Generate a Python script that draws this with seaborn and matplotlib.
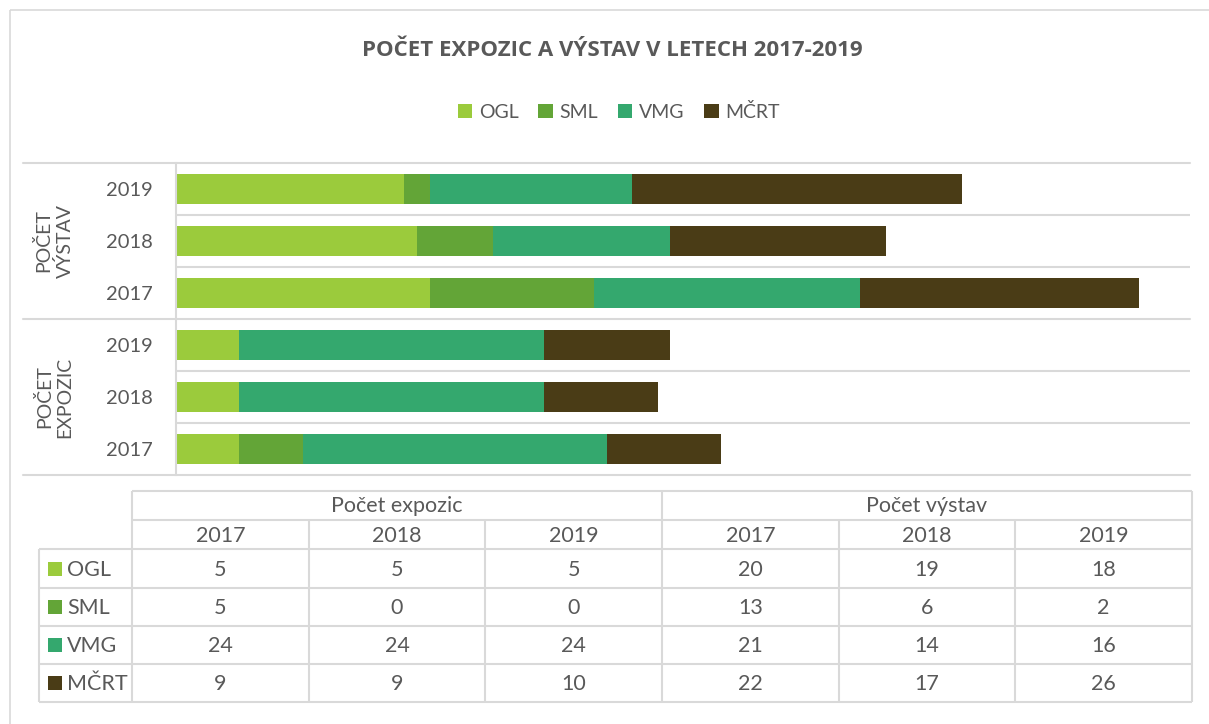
import matplotlib
matplotlib.use("Agg")
import matplotlib.pyplot as plt
import seaborn as sns
import pandas as pd
from matplotlib.patches import Patch, Rectangle
from matplotlib.lines import Line2D

# ---------------- data ----------------
series = ["OGL", "SML", "VMG", "MČRT"]
colors = ["#9BCB3C", "#63A537", "#34A86E", "#4A3C16"]
years = ["2017", "2018", "2019"]
groups = ["Počet expozic", "Počet výstav"]

expozic_OGL = [5, 5, 5]
expozic_SML = [5, 0, 0]
expozic_VMG = [24, 24, 24]
expozic_MCRT = [9, 9, 10]

vystav_OGL = [20, 19, 18]
vystav_SML = [13, 6, 2]
vystav_VMG = [21, 14, 16]
vystav_MCRT = [22, 17, 26]

title = "POČET EXPOZIC A VÝSTAV V LETECH 2017-2019"
group_axis_labels = {"Počet výstav": "POČET\nVÝSTAV", "Počet expozic": "POČET\nEXPOZIC"}

expozic = {"OGL": expozic_OGL, "SML": expozic_SML, "VMG": expozic_VMG, "MČRT": expozic_MCRT}
vystav = {"OGL": vystav_OGL, "SML": vystav_SML, "VMG": vystav_VMG, "MČRT": vystav_MCRT}
data_by_group = {"Počet expozic": expozic, "Počet výstav": vystav}

# ---------------- style ----------------
sns.set_theme(style="white")
plt.rcParams["font.family"] = ["Lato", "DejaVu Sans"]
TXT = "#595959"
GRID = "#D9D9D9"
TABLE_FS = 15.5

W, H = 1209, 724
fig = plt.figure(figsize=(W / 100, H / 100), dpi=100)
fig.patch.set_facecolor("white")

# overlay axes in pixel coordinates for border, title, table
ov = fig.add_axes([0, 0, 1, 1], zorder=0)
ov.set_xlim(0, W)
ov.set_ylim(H, 0)
ov.axis("off")
ov.patch.set_alpha(0)

ov.add_patch(Rectangle((10, 10), W + 20, H + 20, fill=False, edgecolor=GRID, lw=1.2, clip_on=False))

ov.text(612, 50, title, ha="center", va="center", fontsize=16, fontweight="bold",
        color=TXT, family=["Open Sans", "DejaVu Sans"])

# ---------------- bars ----------------
rows = []
for g in ["Počet výstav", "Počet expozic"]:
    for y in reversed(years):
        rows.append((g, y))
cat_keys = [f"{g} {y}" for g, y in rows]

records = []
for g, y in rows:
    d = data_by_group[g]
    i = years.index(y)
    cum = 0
    for s in series:
        cum += d[s][i]
        records.append({"cat": f"{g} {y}", "series": s, "cum": cum})
df = pd.DataFrame(records)

ax = fig.add_axes([176 / W, 1 - 475 / H, 1014 / W, 312 / H], zorder=1)
ax.patch.set_alpha(0)
for s, c in reversed(list(zip(series, colors))):
    sub = df[df["series"] == s]
    sns.barplot(data=sub, x="cum", y="cat", order=cat_keys, color=c, saturation=1,
                width=0.58, linewidth=0, ax=ax, errorbar=None)

ax.set_xlim(0, 80)
ax.set_ylim(5.5, -0.5)
ax.set_xlabel("")
ax.set_ylabel("")
ax.set_xticks([])
ax.set_yticks(range(len(rows)), [y for g, y in rows])
ax.tick_params(axis="y", length=0, pad=17, labelsize=14.5, labelcolor=TXT)
for sp in ["top", "right", "bottom"]:
    ax.spines[sp].set_visible(False)
ax.spines["left"].set_color(GRID)
ax.spines["left"].set_linewidth(1.5)

left_ext = (23 - 176) / 1014
for yb in [-0.5, 2.5, 5.5]:
    ax.add_line(Line2D([left_ext, 1], [yb, yb], transform=ax.get_yaxis_transform(),
                       color=GRID, lw=1.5, clip_on=False))
for yb in [0.5, 1.5, 3.5, 4.5]:
    ax.axhline(yb, color=GRID, lw=1.5, zorder=0)

for g, cy in [("Počet výstav", 1), ("Počet expozic", 4)]:
    ax.text((54 - 176) / 1014, cy, group_axis_labels[g], transform=ax.get_yaxis_transform(),
            rotation=90, ha="center", va="center", multialignment="center",
            fontsize=14, color=TXT, linespacing=1.2)

# ---------------- legend ----------------
handles = [Patch(facecolor=c, edgecolor="none", label=s) for s, c in zip(series, colors)]
fig.legend(handles=handles, loc="center", bbox_to_anchor=(619 / W, 1 - 112 / H), ncol=4,
           frameon=False, fontsize=14, labelcolor=TXT, handlelength=0.75, handleheight=0.75,
           handletextpad=0.35, columnspacing=1.0)

# ---------------- data table ----------------
x0, x1, xr = 39, 132, 1192
cw = (xr - x1) / 6
yh0, yh1, yh2 = 491, 520, 549
row_y = [549, 588, 626, 664, 702]
lk = dict(color=GRID, lw=1.5, solid_capstyle="butt")

ov.plot([x1, xr], [yh0, yh0], **lk)
ov.plot([x1, xr], [yh1, yh1], **lk)
for yy in row_y:
    ov.plot([x0, xr], [yy, yy], **lk)
ov.plot([x0, x0], [yh2, row_y[-1]], **lk)
ov.plot([x1, x1], [yh0, row_y[-1]], **lk)
ov.plot([xr, xr], [yh0, row_y[-1]], **lk)
for k in range(1, 6):
    xx = x1 + k * cw
    top = yh0 if k == 3 else yh1
    ov.plot([xx, xx], [top, row_y[-1]], **lk)

for gi, g in enumerate(groups):
    ov.text(x1 + (gi * 3 + 1.5) * cw, (yh0 + yh1) / 2 + 1, g, ha="center", va="center",
            fontsize=TABLE_FS, color=TXT)
    for yi, y in enumerate(years):
        ov.text(x1 + (gi * 3 + yi + 0.5) * cw, (yh1 + yh2) / 2 + 1, y, ha="center", va="center",
                fontsize=TABLE_FS, color=TXT)

for si, (s, c) in enumerate(zip(series, colors)):
    yc = (row_y[si] + row_y[si + 1]) / 2
    ov.add_patch(Rectangle((48, yc - 7), 14, 14, facecolor=c, edgecolor="none"))
    ov.text(67, yc + 1, s, ha="left", va="center", fontsize=TABLE_FS, color=TXT)
    for gi, g in enumerate(groups):
        vals = data_by_group[g][s]
        for yi in range(len(years)):
            ov.text(x1 + (gi * 3 + yi + 0.5) * cw, yc + 1, str(vals[yi]), ha="center",
                    va="center", fontsize=TABLE_FS, color=TXT)

fig.savefig("out.png", dpi=100, facecolor="white")
